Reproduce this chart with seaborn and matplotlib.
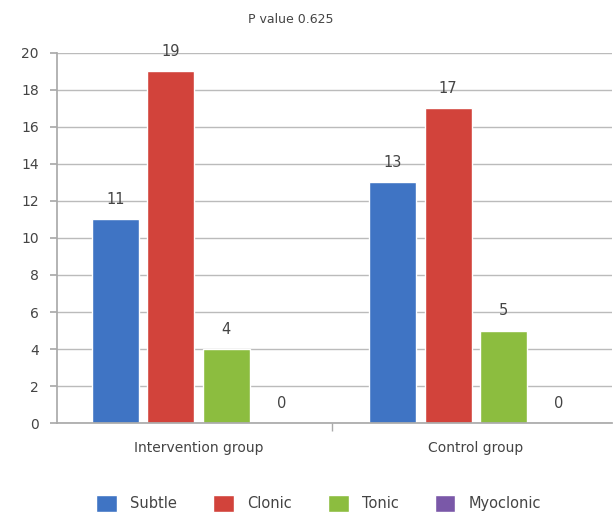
import matplotlib
matplotlib.use("Agg")
import matplotlib.pyplot as plt
import seaborn as sns
import pandas as pd
from matplotlib.ticker import FixedLocator

groups = ["Intervention group", "Control group"]
seizure_types = ["Subtle", "Clonic", "Tonic", "Myoclonic"]
intervention_vals = [11, 19, 4, 0]
control_vals = [13, 17, 5, 0]
y_ticks = [0, 2, 4, 6, 8, 10, 12, 14, 16, 18, 20]
title_text = "P value 0.625"
colors = ["#3f74c4", "#d2433b", "#8cbd3f", "#7a58a8"]

rows = []
for t, v in zip(seizure_types, intervention_vals):
    rows.append({"group": groups[0], "type": t, "count": v})
for t, v in zip(seizure_types, control_vals):
    rows.append({"group": groups[1], "type": t, "count": v})
df = pd.DataFrame(rows)

sns.set_theme(style="white")
plt.rcParams['font.family'] = ['DejaVu Sans']

fig = plt.figure(figsize=(6.13, 5.23), dpi=100)
ax = fig.add_axes([0.093, 0.191, 0.905, 0.708])

sns.barplot(data=df, x="group", y="count", hue="type", order=groups,
            hue_order=seizure_types, palette=colors, width=0.8, gap=0.15,
            saturation=1, ax=ax, legend=True)

for c in ax.containers:
    ax.bar_label(c, labels=[str(int(v)) for v in c.datavalues], padding=9,
                 fontsize=10.5, color="#444444")

ax.set_ylim(0, 20)
ax.set_xlim(-0.51, 1.49)
ax.set_yticks(y_ticks)
ax.yaxis.grid(True, color="#bbbbbb", linewidth=1)
ax.set_axisbelow(True)
ax.set_xlabel("")
ax.set_ylabel("")
for s in ["top", "right"]:
    ax.spines[s].set_visible(False)
for s in ["left", "bottom"]:
    ax.spines[s].set_color("#aaaaaa")
ax.tick_params(axis="y", which="both", left=True, length=5, color="#aaaaaa",
               labelsize=10, labelcolor="#444444", pad=8)
ax.tick_params(axis="x", which="major", bottom=False, labelsize=10,
               labelcolor="#444444", pad=7)
ax.xaxis.set_minor_locator(FixedLocator([0.48]))
ax.tick_params(axis="x", which="minor", bottom=True, length=6, color="#aaaaaa")

fig.text(0.475, 0.963, title_text, fontsize=9, color="#444444", ha="center", va="center")

handles, labels = ax.get_legend_handles_labels()
ax.legend_.remove()
fig.legend(handles, labels, loc="center", bbox_to_anchor=(0.52, 0.038), ncol=4,
           frameon=False, fontsize=10.5, handlelength=1.4, handleheight=1.4,
           columnspacing=2.5, handletextpad=0.9, labelcolor="#444444")

fig.savefig("out.png", dpi=100)
